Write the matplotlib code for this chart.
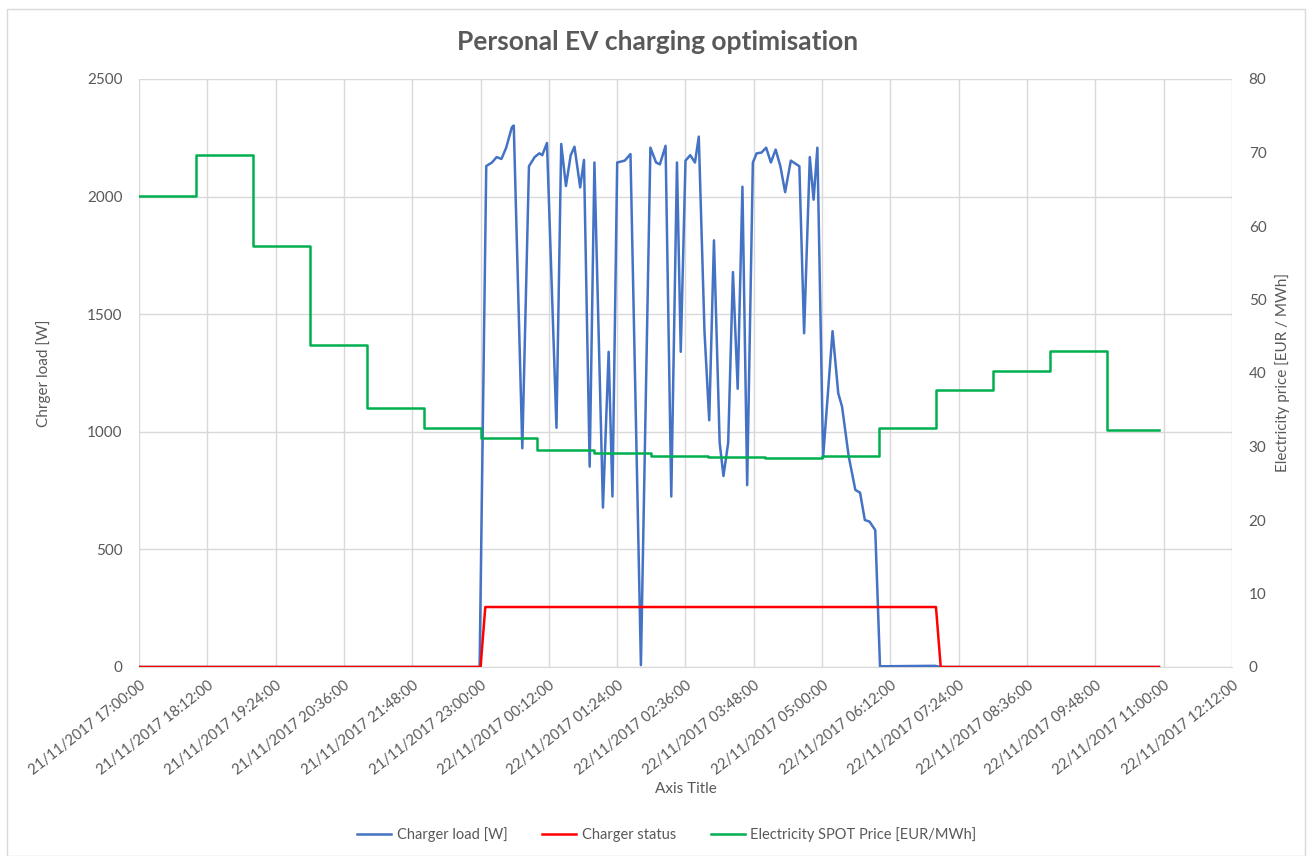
import matplotlib
matplotlib.use("Agg")
import matplotlib.pyplot as plt
from matplotlib.patches import Rectangle
import pandas as pd

# charger load [W]
load_times = ["21/11 17:00", "21/11 22:59", "21/11 23:06", "21/11 23:12", "21/11 23:17",
              "21/11 23:22", "21/11 23:27", "21/11 23:33", "21/11 23:35", "21/11 23:44",
              "21/11 23:51", "21/11 23:57", "22/11 00:02", "22/11 00:05", "22/11 00:10",
              "22/11 00:20", "22/11 00:25", "22/11 00:30", "22/11 00:35", "22/11 00:39",
              "22/11 00:45", "22/11 00:49", "22/11 00:55", "22/11 01:00", "22/11 01:09",
              "22/11 01:15", "22/11 01:19", "22/11 01:24", "22/11 01:32", "22/11 01:38",
              "22/11 01:49", "22/11 01:59", "22/11 02:05", "22/11 02:09", "22/11 02:15",
              "22/11 02:21", "22/11 02:27", "22/11 02:31", "22/11 02:36", "22/11 02:41",
              "22/11 02:46", "22/11 02:50", "22/11 02:56", "22/11 03:01", "22/11 03:06",
              "22/11 03:12", "22/11 03:16", "22/11 03:21", "22/11 03:26", "22/11 03:31",
              "22/11 03:36", "22/11 03:41", "22/11 03:47", "22/11 03:51", "22/11 03:56",
              "22/11 04:01", "22/11 04:06", "22/11 04:11", "22/11 04:16", "22/11 04:21",
              "22/11 04:27", "22/11 04:36", "22/11 04:41", "22/11 04:47", "22/11 04:51",
              "22/11 04:55", "22/11 05:01", "22/11 05:11", "22/11 05:17", "22/11 05:21",
              "22/11 05:28", "22/11 05:35", "22/11 05:40", "22/11 05:45", "22/11 05:50",
              "22/11 05:56", "22/11 06:01", "22/11 06:59", "22/11 07:05", "22/11 10:55"]
load_w = [0, 0, 2130, 2145, 2168,
          2160, 2208, 2295, 2302, 930,
          2129, 2168, 2184, 2176, 2228,
          1017, 2224, 2045, 2176, 2212,
          2039, 2156, 852, 2145, 678,
          1340, 725, 2145, 2153, 2181,
          8, 2208, 2145, 2137, 2216,
          725, 2145, 1340, 2153, 2176,
          2145, 2255, 1427, 1049, 1814,
          954, 812, 954, 1679, 1183,
          2042, 773, 2145, 2184, 2187,
          2208, 2145, 2200, 2129, 2019,
          2153, 2129, 1419, 2168, 1987,
          2208, 890, 1428, 1164, 1107,
          896, 753, 741, 625, 618,
          582, 3, 5, 0, 0]

# charger status (drawn on the load axis)
status_times = ["21/11 17:00", "21/11 23:00", "21/11 23:05", "22/11 07:00", "22/11 07:05", "22/11 10:55"]
status_val = [0, 0, 255, 255, 0, 0]

# hourly spot price [EUR/MWh]
price_times = ["21/11 17:00", "21/11 18:00", "21/11 19:00", "21/11 20:00", "21/11 21:00",
               "21/11 22:00", "21/11 23:00", "22/11 00:00", "22/11 01:00", "22/11 02:00",
               "22/11 03:00", "22/11 04:00", "22/11 05:00", "22/11 06:00", "22/11 07:00",
               "22/11 08:00", "22/11 09:00", "22/11 10:00", "22/11 10:55"]
price = [64.1, 69.7, 57.3, 43.8, 35.2,
         32.5, 31.2, 29.5, 29.1, 28.7,
         28.6, 28.5, 28.7, 32.5, 37.7,
         40.3, 43.0, 32.3, 32.3]


def parse(labels):
    # "dd/mm HH:MM" -> timestamps in Nov 2017
    return pd.to_datetime(["2017-11-" + s[:2] + " " + s[6:] for s in labels])


t_load = parse(load_times)
t_status = parse(status_times)
t_price = parse(price_times)

GREY = "#595959"
GRID = "#d9d9d9"

plt.rcParams["font.family"] = ["Lato", "DejaVu Sans"]

fig = plt.figure(figsize=(13.15, 8.56), dpi=100)
fig.patches.append(Rectangle((7 / 1315, 0), 1298 / 1315, 1 - 9 / 856,
                             transform=fig.transFigure, fill=False,
                             edgecolor="#d9d9d9", linewidth=1))

ax = fig.add_axes([139 / 1315, 1 - 667 / 856, 1093 / 1315, 588 / 856])
ax2 = ax.twinx()

l1, = ax.plot(t_load, load_w, color="#4472C4", lw=1.8, label="Charger load [W]", zorder=3)
l2, = ax.plot(t_status, status_val, color="#FF0000", lw=1.8, label="Charger status", zorder=4)
l3, = ax2.plot(t_price, price, color="#00B050", lw=1.8, drawstyle="steps-post",
               label="Electricity SPOT Price [EUR/MWh]")

start = pd.Timestamp("2017-11-21 17:00")
ticks = pd.date_range(start, periods=17, freq="72min")
ax.set_xlim(ticks[0], ticks[-1])
ax.set_xticks(ticks)
ax.set_xticklabels([t.strftime("%d/%m/%Y %H:%M:%S") for t in ticks],
                   rotation=38, ha="right", rotation_mode="anchor",
                   fontsize=10.5, color=GREY)

ax.set_ylim(0, 2500)
ax.set_yticks(range(0, 2501, 500))
ax2.set_ylim(0, 80)
ax2.set_yticks(range(0, 81, 10))

ax.grid(True, color=GRID, lw=1)
ax.set_axisbelow(True)
for a in (ax, ax2):
    for s in a.spines.values():
        s.set_visible(False)
    a.tick_params(length=0, colors=GREY, labelsize=11)
ax.spines["bottom"].set_visible(True)
ax.spines["bottom"].set_color(GRID)
ax.tick_params(axis="y", pad=12)
ax2.tick_params(axis="y", pad=12)
ax.tick_params(axis="x", pad=8, labelsize=10.5)

ax.set_ylabel("Chrger load [W]", fontsize=11, color=GREY, labelpad=26)
ax2.set_ylabel("Electricity price [EUR / MWh]", fontsize=11, color=GREY, labelpad=6)
fig.text(686 / 1315, 1 - 789 / 856, "Axis Title", fontsize=11, color=GREY,
         ha="center", va="center")

fig.suptitle("Personal EV charging optimisation", x=658 / 1315, y=1 - 42 / 856,
             fontsize=19, fontweight="bold", color=GREY, va="center")

fig.legend(handles=[l1, l2, l3], loc="center", bbox_to_anchor=(667 / 1315, 1 - 835 / 856),
           ncol=3, frameon=False, fontsize=10.5, labelcolor=GREY,
           handlelength=2.3, handletextpad=0.4, columnspacing=2.4)

fig.savefig("out.png", dpi=100)
